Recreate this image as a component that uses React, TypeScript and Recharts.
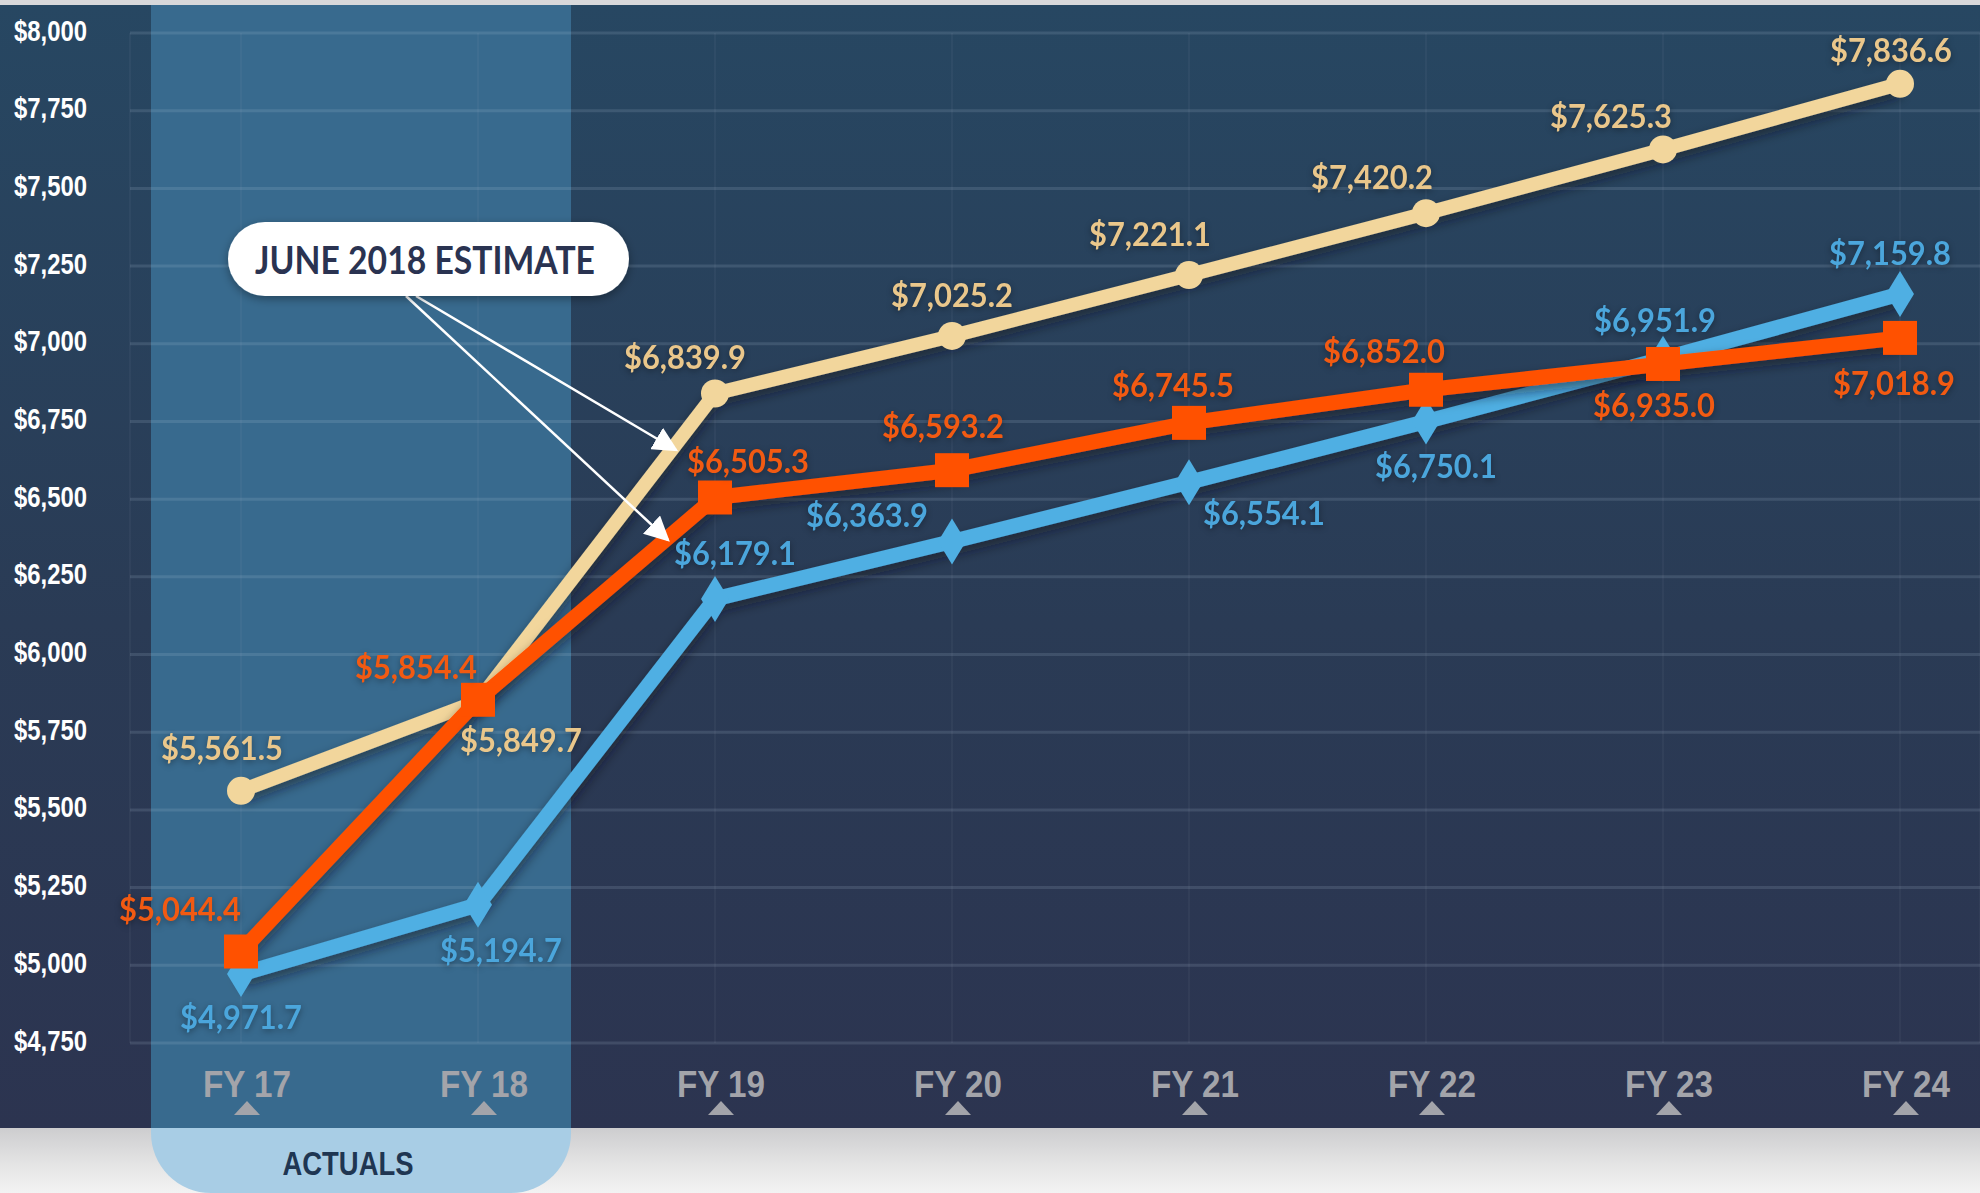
import { LineChart, Line, XAxis, YAxis, CartesianGrid, LabelList } from "recharts";

const years = ["FY 17", "FY 18", "FY 19", "FY 20", "FY 21", "FY 22", "FY 23", "FY 24"];
const tanValues = [5561.5, 5849.7, 6839.9, 7025.2, 7221.1, 7420.2, 7625.3, 7836.6];
const orangeValues = [5044.4, 5854.4, 6505.3, 6593.2, 6745.5, 6852.0, 6935.0, 7018.9];
const blueValues = [4971.7, 5194.7, 6179.1, 6363.9, 6554.1, 6750.1, 6951.9, 7159.8];
const yTicks = [4750, 5000, 5250, 5500, 5750, 6000, 6250, 6500, 6750, 7000, 7250, 7500, 7750, 8000];

// label offsets from the point (px), per series
const tanOffsets = [[-19, -44], [43, 38], [-30, -38], [0, -42], [-39, -42], [-54, -37], [-52, -34], [-9, -35]];
const orangeOffsets = [[-61, -44], [-62, -34], [33, -38], [-9, -45], [-16, -39], [-42, -40], [-9, 40], [-6, 44]];
const blueOffsets = [[0, 42], [23, 44], [20, -47], [-85, -27], [75, 30], [10, 44], [-8, -40], [-10, -42]];

const TAN = "#f2d69c";
const ORANGE = "#ff5100";
const BLUE = "#4fafe3";

const data = years.map((year, i) => ({
  year,
  tan: tanValues[i],
  orange: orangeValues[i],
  blue: blueValues[i],
}));

const fmt = (v: number) =>
  "$" + v.toLocaleString("en-US", { minimumFractionDigits: 1, maximumFractionDigits: 1 });

const narrow = "'Liberation Sans Narrow', 'Arial Narrow', 'Liberation Sans', sans-serif";
const labelFont = "Lato, 'Open Sans', sans-serif";

const makeLabel = (offsets: number[][], color: string) => (props: any) => {
  const { x, y, value, index } = props;
  const [dx, dy] = offsets[index] || [0, -30];
  return (
    <text
      x={x + dx}
      y={y + dy}
      fill={color}
      fontFamily={labelFont}
      fontWeight={700}
      fontSize={33}
      textAnchor="middle"
      dominantBaseline="central"
      textLength={122}
      lengthAdjust="spacingAndGlyphs"
      style={{ filter: "drop-shadow(0px 2px 3px rgba(0,0,0,0.35))" }}
    >
      {fmt(value)}
    </text>
  );
};

const CircleDot = (props: any) => {
  const { cx, cy } = props;
  return <circle cx={cx} cy={cy} r={14} fill={TAN} />;
};

const SquareDot = (props: any) => {
  const { cx, cy } = props;
  return <rect x={cx - 17} y={cy - 17} width={34} height={34} fill={ORANGE} />;
};

const DiamondDot = (props: any) => {
  const { cx, cy } = props;
  return (
    <polygon
      points={`${cx},${cy - 23} ${cx + 14},${cy} ${cx},${cy + 23} ${cx - 14},${cy}`}
      fill={BLUE}
    />
  );
};

const YTick = (props: any) => {
  const { y, payload } = props;
  return (
    <text
      x={14}
      y={y - 3}
      fill="#ffffff"
      fontFamily={narrow}
      fontWeight={700}
      fontSize={30}
      dominantBaseline="central"
      textLength={73}
      lengthAdjust="spacingAndGlyphs"
    >
      {"$" + payload.value.toLocaleString("en-US")}
    </text>
  );
};

const XTick = (props: any) => {
  const { x: px, y, payload } = props;
  const x = px + 6;
  return (
    <g>
      <text
        x={x}
        y={y + 33}
        fill="#a3a4aa"
        fontFamily={narrow}
        fontWeight={700}
        fontSize={36}
        textAnchor="middle"
        dominantBaseline="central"
        textLength={88}
        lengthAdjust="spacingAndGlyphs"
      >
        {payload.value}
      </text>
      <polygon points={`${x - 13},${y + 64} ${x + 13},${y + 64} ${x},${y + 50}`} fill="#a3a4aa" />
    </g>
  );
};

export default function App() {
  return (
    <div
      style={{
        position: "absolute",
        left: 0,
        top: 0,
        width: 1980,
        height: 1193,
        overflow: "hidden",
        background: "#d8d8da",
      }}
    >
      {/* light strip below the panel */}
      <div
        style={{
          position: "absolute",
          left: 0,
          top: 1128,
          width: 1980,
          height: 65,
          background: "linear-gradient(#cdcdcf 0%, #e6e6e6 60%, #f3f3f3 100%)",
        }}
      />
      {/* dark panel */}
      <div
        style={{
          position: "absolute",
          left: 0,
          top: 5,
          width: 1980,
          height: 1123,
          background: "linear-gradient(#274762 0%, #2a3b55 55%, #2c3450 100%)",
        }}
      />
      {/* actuals band */}
      <div
        style={{
          position: "absolute",
          left: 151,
          top: 5,
          width: 420,
          height: 1123,
          background: "#386a8e",
        }}
      />
      <div
        style={{
          position: "absolute",
          left: 151,
          top: 1128,
          width: 420,
          height: 65,
          background: "#a8cde5",
          borderBottomLeftRadius: 60,
          borderBottomRightRadius: 60,
        }}
      />

      <div style={{ position: "absolute", left: 0, top: 0 }}>
        <LineChart
          width={1980}
          height={1193}
          data={data}
          margin={{ top: 33, right: 0, bottom: 90, left: 0 }}
        >
          <defs>
            <filter id="lineShadow" x="-10%" y="-10%" width="120%" height="130%">
              <feDropShadow dx="0" dy="6" stdDeviation="6" floodColor="#081222" floodOpacity="0.55" />
            </filter>
          </defs>
          <CartesianGrid stroke="rgba(190,205,225,0.15)" strokeWidth={3} vertical={false} />
          <CartesianGrid stroke="rgba(190,205,225,0.05)" strokeWidth={2} horizontal={false} />
          <XAxis
            dataKey="year"
            scale="point"
            padding={{ left: 111, right: 80 }}
            height={60}
            axisLine={false}
            tickLine={false}
            tick={<XTick />}
            interval={0}
          />
          <YAxis
            domain={[4750, 8000]}
            ticks={yTicks}
            width={130}
            axisLine={false}
            tickLine={false}
            tick={<YTick />}
            interval={0}
          />
          <Line
            dataKey="blue"
            stroke={BLUE}
            strokeWidth={15}
            strokeLinejoin="round"
            dot={<DiamondDot />}
            activeDot={false}
            isAnimationActive={false}
            filter="url(#lineShadow)"
          >
            <LabelList dataKey="blue" content={makeLabel(blueOffsets, "#4ba6dc")} />
          </Line>
          <Line
            dataKey="tan"
            stroke={TAN}
            strokeWidth={14}
            strokeLinejoin="round"
            dot={<CircleDot />}
            activeDot={false}
            isAnimationActive={false}
            filter="url(#lineShadow)"
          >
            <LabelList dataKey="tan" content={makeLabel(tanOffsets, "#eac78b")} />
          </Line>
          <Line
            dataKey="orange"
            stroke={ORANGE}
            strokeWidth={15}
            strokeLinejoin="round"
            dot={<SquareDot />}
            activeDot={false}
            isAnimationActive={false}
            filter="url(#lineShadow)"
          >
            <LabelList dataKey="orange" content={makeLabel(orangeOffsets, "#f25a12")} />
          </Line>
        </LineChart>
      </div>

      {/* annotation and band label */}
      <svg
        width={1980}
        height={1193}
        style={{ position: "absolute", left: 0, top: 0, pointerEvents: "none" }}
      >
        <defs>
          <marker id="arrowHead" viewBox="0 0 10 10" refX="9" refY="5" markerWidth="10" markerHeight="10" orient="auto">
            <path d="M0,0 L10,5 L0,10 z" fill="#ffffff" />
          </marker>
          <filter id="pillShadow" x="-10%" y="-30%" width="120%" height="160%">
            <feDropShadow dx="0" dy="3" stdDeviation="5" floodColor="#000" floodOpacity="0.35" />
          </filter>
        </defs>
        <text
          x={348}
          y={1163}
          fill="#1f3652"
          fontFamily={narrow}
          fontWeight={700}
          fontSize={34}
          textAnchor="middle"
          dominantBaseline="central"
          textLength={131}
          lengthAdjust="spacingAndGlyphs"
        >
          ACTUALS
        </text>
        <line x1={406} y1={296} x2={668} y2={540} stroke="#fff" strokeWidth={2.5} markerEnd="url(#arrowHead)" />
        <line x1={416} y1={296} x2={676} y2={450} stroke="#fff" strokeWidth={2.5} markerEnd="url(#arrowHead)" />
        <rect x={228} y={222} width={401} height={74} rx={37} fill="#ffffff" filter="url(#pillShadow)" />
        <text
          x={425}
          y={259}
          fill="#2a3351"
          fontFamily={labelFont}
          fontWeight={700}
          fontSize={38}
          textAnchor="middle"
          dominantBaseline="central"
          textLength={340}
          lengthAdjust="spacingAndGlyphs"
        >
          JUNE 2018 ESTIMATE
        </text>
      </svg>
    </div>
  );
}
